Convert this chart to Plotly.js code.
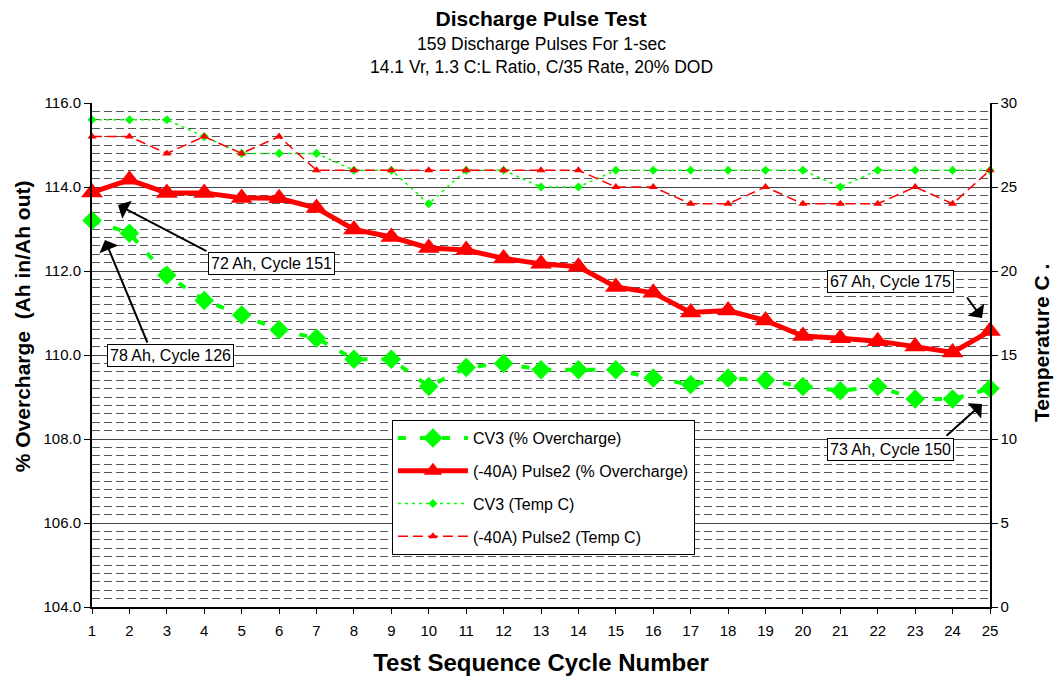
<!DOCTYPE html>
<html>
<head>
<meta charset="utf-8">
<script src="https://cdn.plot.ly/plotly-3.0.1.min.js"></script>
<style>html,body{margin:0;padding:0;background:#fff;}#chart{width:1057px;height:680px;}</style>
</head>
<body>
<div id="chart"></div>
<script>
// ---- data ----
const cycles = [1,2,3,4,5,6,7,8,9,10,11,12,13,14,15,16,17,18,19,20,21,22,23,24,25];
const cv3Overcharge = [113.2,112.9,111.9,111.3,110.95,110.6,110.4,109.9,109.9,109.25,109.7,109.8,109.65,109.65,109.65,109.45,109.3,109.45,109.4,109.25,109.15,109.25,108.95,108.95,109.2];
const pulse2Overcharge = [113.87,114.17,113.86,113.86,113.74,113.73,113.5,112.99,112.81,112.55,112.5,112.3,112.17,112.1,111.62,111.48,111.01,111.06,110.82,110.45,110.4,110.33,110.2,110.06,110.57];
const cv3Temp = [29,29,29,28,27,27,27,26,26,24,26,26,25,25,26,26,26,26,26,26,25,26,26,26,26];
const pulse2Temp = [28,28,27,28,27,28,26,26,26,26,26,26,26,26,25,25,24,24,25,24,24,24,25,24,26];
const seriesNames = ['CV3 (% Overcharge)','(-40A) Pulse2 (% Overcharge)','CV3 (Temp C)','(-40A) Pulse2 (Temp C)'];
const leftTicks = [104,106,108,110,112,114,116];
const rightTicks = [0,5,10,15,20,25,30];
const titleText = 'Discharge Pulse Test';
const subtitleLines = ['159 Discharge Pulses For 1-sec','14.1 Vr, 1.3 C:L Ratio, C/35 Rate, 20% DOD'];
const calloutTexts = ['72 Ah, Cycle 151','78 Ah, Cycle 126','67 Ah, Cycle 175','73 Ah, Cycle 150'];

const GREEN = '#00FF00', RED = '#FF0000';
const FONT = 'Arial, "Liberation Sans", sans-serif';

const traces = [
  {x: cycles, y: cv3Overcharge, name: seriesNames[0], type: 'scatter', mode: 'lines+markers',
   line: {color: GREEN, width: 4, dash: '8px,14px'},
   marker: {symbol: 'diamond', size: 15, color: GREEN}, cliponaxis: false, legendgroup: 'a'},
  {x: cycles, y: pulse2Overcharge, name: seriesNames[1], type: 'scatter', mode: 'lines+markers',
   line: {color: RED, width: 5},
   marker: {symbol: 'triangle-up', size: 19, color: RED}, cliponaxis: false, legendgroup: 'b'},
  {x: cycles, y: cv3Temp, name: seriesNames[2], type: 'scatter', mode: 'lines+markers', yaxis: 'y2',
   line: {color: GREEN, width: 1.5, dash: '3px,4px'},
   marker: {symbol: 'diamond', size: 7, color: GREEN}, cliponaxis: false, legendgroup: 'c'},
  {x: cycles, y: pulse2Temp, name: seriesNames[3], type: 'scatter', mode: 'lines+markers', yaxis: 'y2',
   line: {color: RED, width: 1.5, dash: '10px,5px'},
   marker: {symbol: 'triangle-up', size: 8, color: RED}, cliponaxis: false, legendgroup: 'd'}
];

function box(text, x, y) {
  return {text: text, x: x, y: y, xref: 'x', yref: 'y', showarrow: false,
          xanchor: 'center', yanchor: 'middle',
          bgcolor: '#fff', bordercolor: '#000', borderwidth: 1, borderpad: 2,
          font: {family: FONT, size: 16, color: '#000'}};
}
function arrow(x, y, ax, ay) {
  return {text: '', x: x, y: y, xref: 'x', yref: 'y', ax: ax, ay: ay, showarrow: true,
          arrowhead: 1, arrowsize: 1.7, arrowwidth: 2, arrowcolor: '#000', standoff: 0,
          font: {size: 1}};
}

const annotations = [
  {text: subtitleLines[0], xref: 'paper', yref: 'paper', x: 0.5, y: 1.117, yanchor: 'middle', showarrow: false,
   font: {family: FONT, size: 17.5, color: '#000'}},
  {text: subtitleLines[1], xref: 'paper', yref: 'paper', x: 0.5, y: 1.071, yanchor: 'middle', showarrow: false,
   font: {family: FONT, size: 17.5, color: '#000'}},
  {text: '<b>% Overcharge  (Ah in/Ah out)</b>', xref: 'paper', yref: 'paper', x: -0.078, y: 0.557,
   xanchor: 'center', yanchor: 'middle', textangle: -90, showarrow: false,
   font: {family: FONT, size: 21, color: '#000'}},
  {text: '<b>Temperature C .</b>', xref: 'paper', yref: 'paper', x: 1.058, y: 0.524,
   xanchor: 'center', yanchor: 'middle', textangle: -90, showarrow: false,
   font: {family: FONT, size: 21, color: '#000'}},
  arrow(1.695, 113.571, 90, 47),
  arrow(1.347, 112.738, 43, 104),
  arrow(24.786, 110.881, -16, -22),
  arrow(24.786, 108.833, -37, 33),
  box(calloutTexts[0], 5.81, 112.19),
  box(calloutTexts[1], 3.11, 109.98),
  box(calloutTexts[2], 22.35, 111.76),
  box(calloutTexts[3], 22.35, 107.74)
];

const layout = {
  width: 1057, height: 680,
  margin: {l: 92, r: 67, t: 103, b: 73, pad: 0},
  paper_bgcolor: '#fff', plot_bgcolor: '#fff',
  font: {family: FONT, size: 15, color: '#000'},
  title: {text: '<b>' + titleText + '</b>', x: 0.5, xref: 'paper', y: 1 - 19/680, yref: 'container',
          yanchor: 'middle', font: {family: FONT, size: 21, color: '#000'}},
  showlegend: true,
  legend: {x: 0.334, y: 0.371, xanchor: 'left', yanchor: 'top', bgcolor: '#fff',
           bordercolor: '#000', borderwidth: 1, font: {family: FONT, size: 16, color: '#000'},
           traceorder: 'grouped', tracegroupgap: 9, itemwidth: 70},
  xaxis: {range: [1, 25], tickmode: 'array', tickvals: cycles, ticktext: cycles.map(String),
          showgrid: false, zeroline: false, showline: true, linecolor: '#000', linewidth: 1.5,
          ticks: 'outside', ticklen: 5, tickcolor: '#000', ticklabelstandoff: 4,
          tickfont: {family: FONT, size: 15},
          title: {text: '<b>Test Sequence Cycle Number</b>', font: {family: FONT, size: 24}, standoff: 16}},
  yaxis: {range: [104, 116], tickmode: 'array', tickvals: leftTicks, ticktext: leftTicks.map(v => v.toFixed(1)),
          showgrid: true, gridcolor: '#444', gridwidth: 1, zeroline: false,
          showline: true, linecolor: '#000', linewidth: 2, ticks: 'outside', ticklen: 6, tickcolor: '#000',
          tickfont: {family: FONT, size: 15},
          minor: {dtick: 0.2, tick0: 104, showgrid: true, gridcolor: '#555', gridwidth: 1, griddash: '8px,4px', ticks: ''}},
  yaxis2: {range: [0, 30], overlaying: 'y', side: 'right', tickmode: 'array', tickvals: rightTicks,
           showgrid: false, zeroline: false, showline: true, linecolor: '#000', linewidth: 1.5,
           ticks: 'outside', ticklen: 6, tickcolor: '#000', tickfont: {family: FONT, size: 15}},
  annotations: annotations
};

Plotly.newPlot('chart', traces, layout, {displayModeBar: false, staticPlot: true});
</script>
</body>
</html>
